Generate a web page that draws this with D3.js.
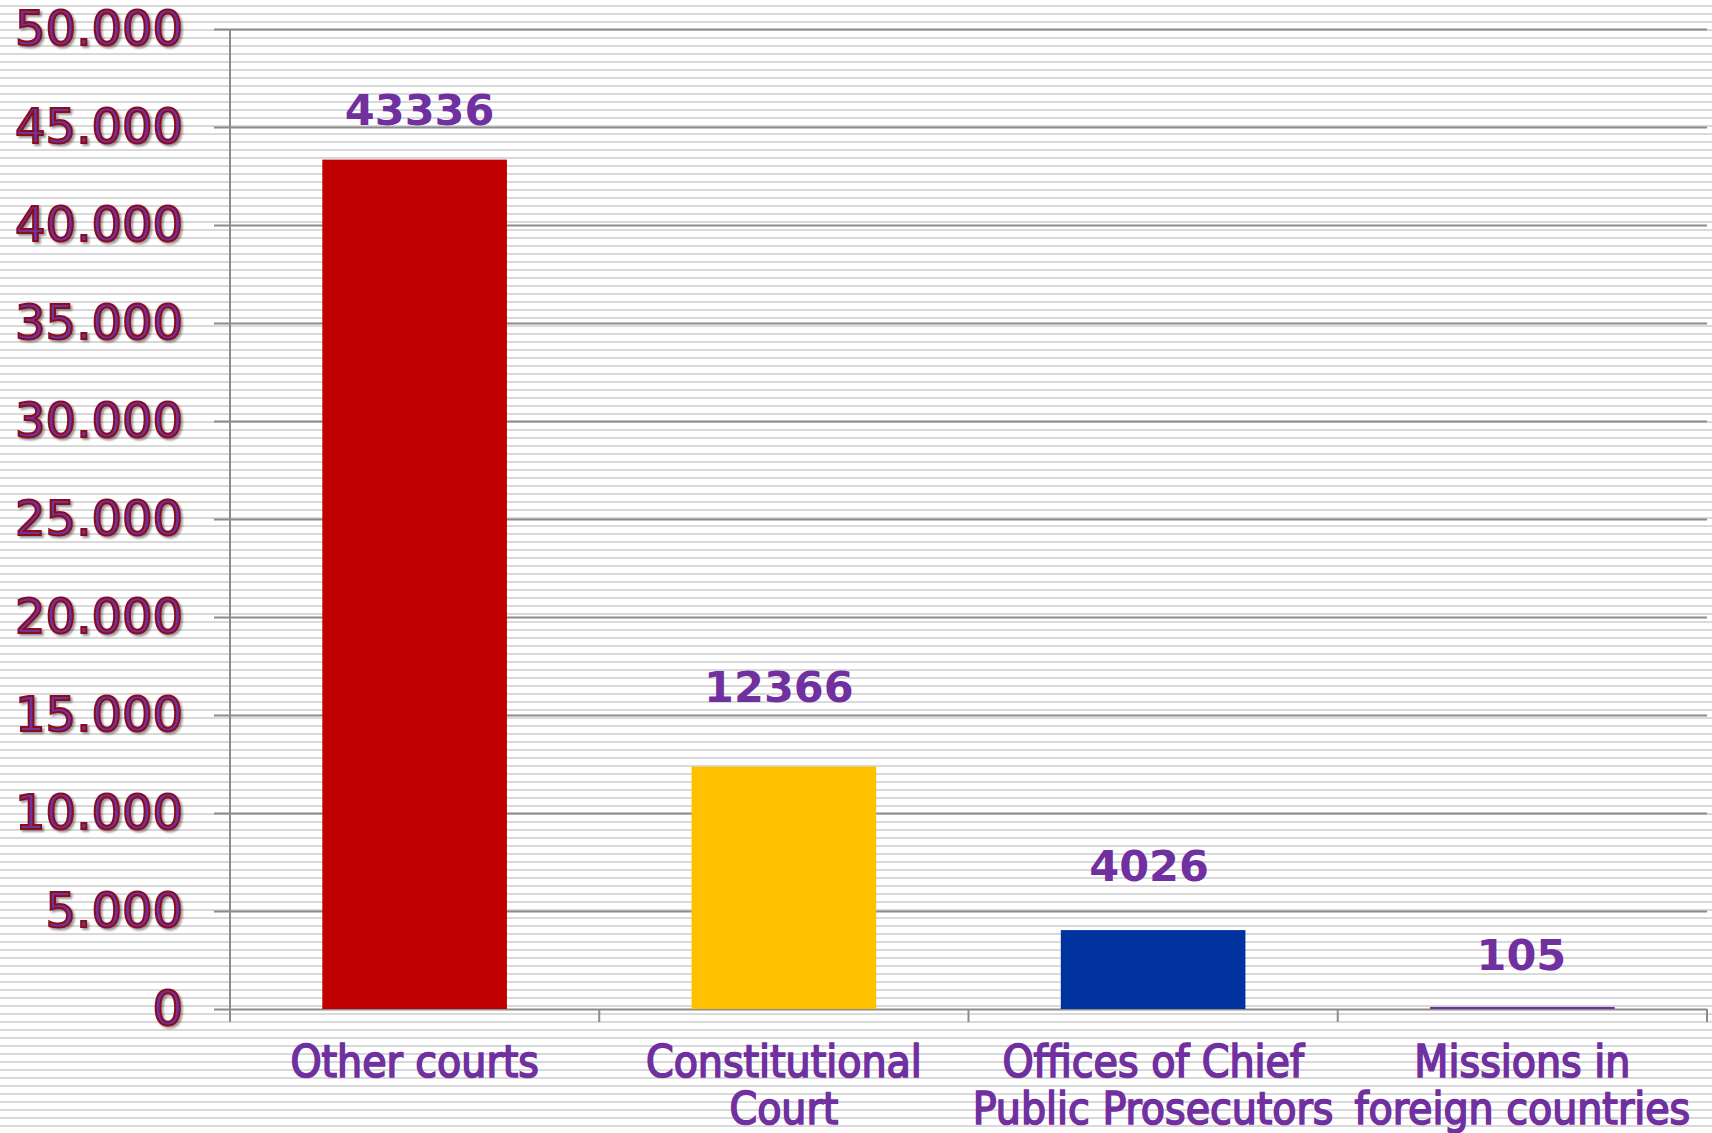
<!DOCTYPE html>
<html>
<head>
<meta charset="utf-8">
<script src="https://cdn.jsdelivr.net/npm/d3@7"></script>
<style>
  body { margin: 0; background: #fff; }
  svg { display: block; }
</style>
</head>
<body>
<div id="chart"></div>
<script>
// data
var categories = [
  ["Other courts"],
  ["Constitutional", "Court"],
  ["Offices of Chief", "Public Prosecutors"],
  ["Missions in", "foreign countries"]
];
var values = [43336, 12366, 4026, 105];
var barColors = ["#C00000", "#FFC000", "#0033A0", "#7030A0"];
var yTicks = [0, 5000, 10000, 15000, 20000, 25000, 30000, 35000, 40000, 45000, 50000];

var width = 1712, height = 1133;
var plotLeft = 230, plotRight = 1707, plotTop = 29, plotBottom = 1009;

// labels were hand placed in the original, nudge them the same way
var labelGap = [35, 65, 49, 37];
var labelDx = [5, -5, -4, -1];

var svg = d3.select("#chart").append("svg")
  .attr("width", width)
  .attr("height", height);

var defs = svg.append("defs");

var pat = defs.append("pattern")
  .attr("id", "stripes")
  .attr("patternUnits", "userSpaceOnUse")
  .attr("width", 8)
  .attr("height", 8);
pat.append("rect").attr("width", 8).attr("height", 8).attr("fill", "#fff");
pat.append("rect").attr("y", 5).attr("width", 8).attr("height", 2).attr("fill", "#d9d9d9");

var shadow = defs.append("filter")
  .attr("id", "shadow")
  .attr("x", "-10%").attr("y", "-20%")
  .attr("width", "130%").attr("height", "150%");
shadow.append("feDropShadow")
  .attr("dx", 2).attr("dy", 2)
  .attr("stdDeviation", 1.3)
  .attr("flood-color", "#000")
  .attr("flood-opacity", 0.4);

svg.append("rect")
  .attr("width", width)
  .attr("height", height)
  .attr("fill", "url(#stripes)");

var x = d3.scaleBand()
  .domain(d3.range(values.length))
  .range([plotLeft, plotRight])
  .paddingInner(0.5)
  .paddingOuter(0.25);

var y = d3.scaleLinear()
  .domain([0, 50000])
  .range([plotBottom, plotTop]);

var fmt = function(d) { return d3.format(",")(d).replace(/,/g, "."); };

// gridlines + y labels
var yAxis = svg.append("g")
  .attr("transform", "translate(" + (plotLeft - 16) + ",0)")
  .call(d3.axisLeft(y)
    .tickValues(yTicks)
    .tickSize(-(plotRight - plotLeft + 16))
    .tickPadding(31)
    .tickFormat(fmt));
yAxis.select(".domain").remove();
yAxis.selectAll(".tick line")
  .attr("stroke", "#8c8c8c")
  .attr("stroke-width", 2);
yAxis.selectAll(".tick text")
  .attr("dy", "0.32em")
  .style("font-family", "'DejaVu Sans', Verdana, sans-serif")
  .style("font-size", "48px")
  .attr("fill", "#7030A0")
  .attr("stroke", "#8a0a1a")
  .attr("stroke-width", 2)
  .attr("filter", "url(#shadow)");

// category boundaries
var step = x.step();
var edges = d3.range(values.length + 1).map(function(i) { return plotLeft + i * step; });
svg.append("g").selectAll("line")
  .data(edges)
  .enter().append("line")
  .attr("x1", function(d) { return d; })
  .attr("x2", function(d) { return d; })
  .attr("y1", plotBottom)
  .attr("y2", plotBottom + 13)
  .attr("stroke", "#8c8c8c")
  .attr("stroke-width", 2);

// y axis line
svg.append("line")
  .attr("x1", plotLeft).attr("x2", plotLeft)
  .attr("y1", plotTop).attr("y2", plotBottom + 13)
  .attr("stroke", "#8c8c8c")
  .attr("stroke-width", 2);

// bars
svg.append("g").selectAll("rect")
  .data(values)
  .enter().append("rect")
  .attr("x", function(d, i) { return x(i); })
  .attr("y", function(d) { return y(d); })
  .attr("width", x.bandwidth())
  .attr("height", function(d) { return y(0) - y(d); })
  .attr("fill", function(d, i) { return barColors[i]; });

// value labels
svg.append("g").selectAll("text")
  .data(values)
  .enter().append("text")
  .attr("x", function(d, i) { return x(i) + x.bandwidth() / 2 + labelDx[i]; })
  .attr("y", function(d, i) { return y(d) - labelGap[i]; })
  .attr("text-anchor", "middle")
  .style("font-family", "'DejaVu Sans', Verdana, sans-serif")
  .style("font-weight", "bold")
  .style("font-size", "43px")
  .attr("fill", "#7030A0")
  .text(function(d) { return d; });

// category labels
var cat = svg.append("g").selectAll("text")
  .data(categories)
  .enter().append("text")
  .attr("text-anchor", "middle")
  .style("font-family", "'DejaVu Sans Condensed', 'DejaVu Sans', sans-serif")
  .style("font-size", "44px")
  .attr("fill", "#7030A0")
  .attr("stroke", "#7030A0")
  .attr("stroke-width", 1.6);

cat.each(function(lines, i) {
  var t = d3.select(this);
  lines.forEach(function(line, j) {
    t.append("tspan")
      .attr("x", x(i) + x.bandwidth() / 2)
      .attr("y", plotBottom + 68 + j * 47)
      .text(line);
  });
});
</script>
</body>
</html>
